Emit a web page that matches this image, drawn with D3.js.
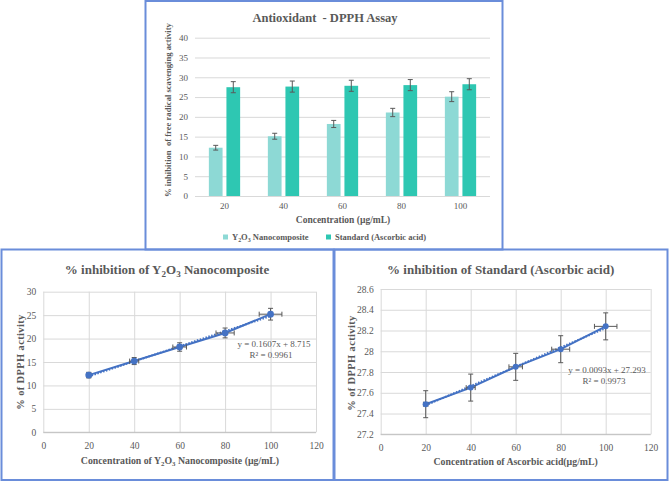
<!DOCTYPE html>
<html><head><meta charset="utf-8">
<script src="https://cdn.jsdelivr.net/npm/d3@7"></script>
<style>
body{margin:0;background:#fff}
svg{display:block}
text{font-family:"Liberation Serif","Times New Roman","DejaVu Serif",serif;fill:#595959}
</style>
</head><body>
<svg id="c" width="669" height="482"></svg>
<script>
// ---------- data ----------
const categories = ["20", "40", "60", "80", "100"];
const concentrations = [20, 40, 60, 80, 100];
const seriesNames = ["Y_2O_3 Nanocomposite", "Standard (Ascorbic acid)"];
const y2o3Values = [12.2, 15.1, 18.2, 21.1, 25.1];
const y2o3ScatterValues = [12.2, 15.2, 18.2, 21.2, 25.2];
const y2o3Errors = [0.6, 0.75, 0.9, 1.05, 1.25];
const standardValues = [27.49, 27.65, 27.85, 28.02, 28.24];
const standardBarErrors = [1.4, 1.4, 1.4, 1.4, 1.4];
const standardScatterErrors = [0.13, 0.13, 0.13, 0.13, 0.13];
const concentrationErrors = [1, 2, 3, 4, 5];
const barYTicks = [0, 5, 10, 15, 20, 25, 30, 35, 40];
const leftYTicks = [0, 5, 10, 15, 20, 25, 30];
const rightYTicks = [27.2, 27.4, 27.6, 27.8, 28, 28.2, 28.4, 28.6];
const scatterXTicks = [0, 20, 40, 60, 80, 100, 120];
const y2o3Trend = [0.1607, 8.715];   // slope, intercept
const standardTrend = [0.0093, 27.293];
const y2o3TrendText = ["y = 0.1607x + 8.715", "R\u00B2 = 0.9961"];
const standardTrendText = ["y = 0.0093x + 27.293", "R\u00B2 = 0.9973"];

// ---------- helpers ----------
const svg = d3.select("#c");
const GRID = "#D9D9D9", TXT = "#595959", BLUE = "#4472C4", PANEL = "#6A8DDA";
const BAR_COLORS = ["#8DD9D5", "#2EC7B2"];
const FONT = '"Liberation Serif","Times New Roman","DejaVu Serif",serif';

function rich(g, x, y, str, fs, opts = {}) {
  const t = g.append("text").attr("x", x).attr("y", y).attr("font-size", fs)
    .attr("font-family", FONT)
    .attr("text-anchor", opts.anchor || "start")
    .attr("font-weight", opts.bold ? "bold" : "normal")
    .style("white-space", "pre");
  if (opts.ls) t.attr("letter-spacing", opts.ls);
  if (opts.rotate) t.attr("transform", `rotate(-90,${x},${y})`);
  const parts = str.split(/(_\d)/).filter(s => s.length);
  let cur = 0;
  parts.forEach(p => {
    const isSub = p[0] === "_";
    const want = isSub ? fs * 0.25 : 0;
    t.append("tspan").attr("dy", want - cur).attr("font-size", isSub ? fs * 0.7 : fs)
      .text(isSub ? p.slice(1) : p);
    cur = want;
  });
  return t;
}

function styleAxis(g, fs) {
  g.attr("font-family", FONT).attr("font-size", fs);
  g.select(".domain").remove();
  g.selectAll(".tick text").attr("font-size", fs).style("fill", TXT);
}

// ---------- panel borders ----------
[[145.5, 1, 357, 248.5], [1.5, 249.5, 332, 230.5], [334.5, 249.5, 333, 230.5]].forEach(r => {
  svg.append("rect").attr("x", r[0]).attr("y", r[1]).attr("width", r[2]).attr("height", r[3])
    .attr("fill", "none").attr("stroke", PANEL).attr("stroke-width", 2);
});

// ---------- top bar chart ----------
(function () {
  const g = svg.append("g");
  const L = 195, R = 490, B = 196, T = 37.7;
  const x0 = d3.scaleBand().domain(categories).range([L, R]).paddingInner(0.47).paddingOuter(0.235);
  const x1 = d3.scaleBand().domain(seriesNames).range([0, x0.bandwidth()]).paddingInner(0.22);
  const y = d3.scaleLinear().domain([0, 40]).range([B, T]);

  const ya = g.append("g").attr("transform", `translate(${L},0)`)
    .call(d3.axisLeft(y).tickValues(barYTicks).tickSize(-(R - L)).tickPadding(7));
  styleAxis(ya, 9);
  ya.selectAll(".tick line").attr("stroke", GRID);

  const xa = g.append("g").attr("transform", `translate(0,${B})`)
    .call(d3.axisBottom(x0).tickSize(0).tickPadding(7));
  styleAxis(xa, 9);

  const series = [y2o3Values, standardValues];
  const errs = [y2o3Errors, standardBarErrors];
  series.forEach((vals, s) => {
    categories.forEach((c, i) => {
      const bx = x0(c) + x1(seriesNames[s]);
      g.append("rect").attr("x", bx).attr("y", y(vals[i]))
        .attr("width", x1.bandwidth()).attr("height", B - y(vals[i]))
        .attr("fill", BAR_COLORS[s]);
      const cx = bx + x1.bandwidth() / 2;
      const e = errs[s][i];
      const eg = g.append("g").attr("stroke", TXT).attr("stroke-width", 1);
      eg.append("line").attr("x1", cx).attr("x2", cx).attr("y1", y(vals[i] + e)).attr("y2", y(vals[i] - e));
      [vals[i] + e, vals[i] - e].forEach(v => eg.append("line")
        .attr("x1", cx - 2.5).attr("x2", cx + 2.5).attr("y1", y(v)).attr("y2", y(v)));
    });
  });

  rich(g, 325, 21.5, "Antioxidant  - DPPH Assay", 12.5, { anchor: "middle", bold: true });
  rich(g, 343, 222.5, "Concentration (\u00B5g/mL)", 9.5, { anchor: "middle", bold: true });
  rich(g, 170.5, 110, "% inhibition  of free radical scavenging activity", 8.6, { anchor: "middle", bold: true, rotate: true });

  // legend
  const lx = [223, 326];
  seriesNames.forEach((n, s) => {
    g.append("rect").attr("x", lx[s]).attr("y", 234.5).attr("width", 5).attr("height", 5).attr("fill", BAR_COLORS[s]);
    rich(g, lx[s] + 9, 240, n, 8.5, { bold: true });
  });
})();

// ---------- scatter charts ----------
function scatter(cfg) {
  const g = svg.append("g");
  const x = d3.scaleLinear().domain([0, 120]).range([cfg.L, cfg.R]);
  const y = d3.scaleLinear().domain(cfg.yDomain).range([cfg.B, cfg.T]);

  const ya = g.append("g").attr("transform", `translate(${cfg.L},0)`)
    .call(d3.axisLeft(y).tickValues(cfg.yTicks).tickSize(-(cfg.R - cfg.L)).tickPadding(7).tickFormat(d3.format("~g")));
  styleAxis(ya, 9.5);
  ya.selectAll(".tick line").attr("stroke", GRID);

  const xa = g.append("g").attr("transform", `translate(0,${cfg.B})`)
    .call(d3.axisBottom(x).tickValues(scatterXTicks).tickSize(-(cfg.B - cfg.T)).tickPadding(9.5));
  styleAxis(xa, 9.5);
  xa.selectAll(".tick line").attr("stroke", GRID);
  g.append("line").attr("x1", cfg.L).attr("x2", cfg.R).attr("y1", cfg.B).attr("y2", cfg.B).attr("stroke", "#BFBFBF");

  // connecting line
  const pts = concentrations.map((c, i) => [c, cfg.values[i]]);
  g.append("path").datum(pts)
    .attr("d", d3.line().x(d => x(d[0])).y(d => y(d[1])))
    .attr("fill", "none").attr("stroke", BLUE).attr("stroke-width", 2);
  // trendline (dotted)
  const tx = [concentrations[0], concentrations[concentrations.length - 1]];
  g.append("line").attr("x1", x(tx[0])).attr("x2", x(tx[1]))
    .attr("y1", y(cfg.trend[0] * tx[0] + cfg.trend[1])).attr("y2", y(cfg.trend[0] * tx[1] + cfg.trend[1]))
    .attr("stroke", BLUE).attr("stroke-width", 2).attr("stroke-dasharray", "1.5,1.5");

  // error bars
  const eg = g.append("g").attr("stroke", TXT).attr("stroke-width", 1);
  pts.forEach((p, i) => {
    const cx = x(p[0]), cy = y(p[1]);
    const ey = cfg.yErr[i], ex = concentrationErrors[i];
    eg.append("line").attr("x1", cx).attr("x2", cx).attr("y1", y(p[1] + ey)).attr("y2", y(p[1] - ey));
    [p[1] + ey, p[1] - ey].forEach(v => eg.append("line").attr("x1", cx - 2.5).attr("x2", cx + 2.5).attr("y1", y(v)).attr("y2", y(v)));
    eg.append("line").attr("x1", x(p[0] - ex)).attr("x2", x(p[0] + ex)).attr("y1", cy).attr("y2", cy);
    [p[0] - ex, p[0] + ex].forEach(v => eg.append("line").attr("x1", x(v)).attr("x2", x(v)).attr("y1", cy - 2.5).attr("y2", cy + 2.5));
  });

  // markers
  g.selectAll("circle.m").data(pts).enter().append("circle")
    .attr("cx", d => x(d[0])).attr("cy", d => y(d[1])).attr("r", cfg.r).attr("fill", BLUE);

  // texts
  rich(g, cfg.titleX, 273.5, cfg.title, 13, { anchor: "middle", bold: true });
  rich(g, cfg.xTitleX, cfg.xTitleY, cfg.xTitle, 9.8, { anchor: "middle", bold: true });
  rich(g, cfg.yTitleX, cfg.yTitleY, "% of DPPH activity", 10.5, { anchor: "middle", bold: true, rotate: true, ls: 0.35 });
  rich(g, cfg.eqX, cfg.eqY, cfg.eq[0], 9, { anchor: "middle" });
  rich(g, cfg.eqX - 3, cfg.eqY + 11.5, cfg.eq[1], 9, { anchor: "middle" });
}

scatter({
  L: 43.3, R: 316, B: 432.3, T: 291.7, yDomain: [0, 30], yTicks: leftYTicks,
  values: y2o3ScatterValues, yErr: y2o3Errors, trend: y2o3Trend, eq: y2o3TrendText,
  r: 3.4, title: "% inhibition of Y_2O_3 Nanocomposite", titleX: 167,
  xTitle: "Concentration of Y_2O_3 Nanocomposite (\u00B5g/mL)", xTitleX: 180, xTitleY: 463.5,
  yTitleX: 24, yTitleY: 362, eqX: 274, eqY: 346.5
});
scatter({
  L: 380.7, R: 650.7, B: 434.3, T: 289, yDomain: [27.2, 28.6], yTicks: rightYTicks,
  values: standardValues, yErr: standardScatterErrors, trend: standardTrend, eq: standardTrendText,
  r: 3, title: "% inhibition of Standard (Ascorbic acid)", titleX: 500.7,
  xTitle: "Concentration of Ascorbic acid(\u00B5g/mL)", xTitleX: 515.7, xTitleY: 464.5,
  yTitleX: 354.5, yTitleY: 363, eqX: 607, eqY: 372.5
});
</script>
</body></html>
